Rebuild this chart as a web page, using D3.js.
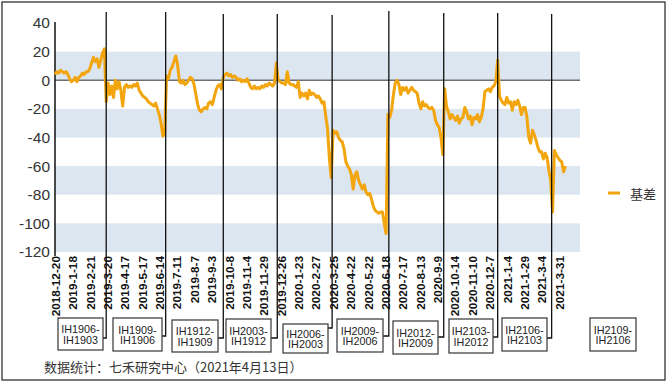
<!DOCTYPE html>
<html><head><meta charset="utf-8">
<script src="https://cdn.jsdelivr.net/npm/d3@7"></script>
<style>
html,body{margin:0;padding:0;background:#fff;}
svg{display:block;font-family:"Liberation Sans",Arial,"Noto Sans CJK SC",sans-serif;}
</style></head><body>
<svg id="c" width="670" height="384"></svg>
<script>
// ---- data ----
// x tick labels: one every 19 trading days, starting at trading day 0 (2018-12-20)
const tickLabels = ["2018-12-20","2019-1-18","2019-2-21","2019-3-20","2019-4-17","2019-5-17","2019-6-14",
 "2019-7-11","2019-8-7","2019-9-3","2019-10-8","2019-11-4","2019-11-29","2019-12-26","2020-1-23",
 "2020-2-27","2020-3-25","2020-4-22","2020-5-22","2020-6-18","2020-7-17","2020-8-13","2020-9-9",
 "2020-10-14","2020-11-10","2020-12-7","2021-1-4","2021-1-29","2021-3-4","2021-3-31"];
const tickEvery = 19;
// basis (基差) sampled every 2 trading days from 2018-12-20
const sampleEvery = 2;
const basis = [
 4,6,5,7,6,5,6,4,1,-1,0,2,-1,2,3,5,4,6,6,8,12,16,13,15,9,14,19,22,
 -15,-2,-10,-4,-12,0,-6,-1,-7,-18,-5,-3,-5,-4,-5,-3,-4,-2,-7,-9,-11,-12,-13,-15,-16,-17,-18,-16,-20,-24,-30,-39,-36,
 3,1,7,9,13,17,11,-1,-2,0,-3,-2,0,2,1,-3,-10,-17,-21,-22,-20,-19,-20,-16,-15,-17,-12,-7,-4,-3,-6,
 2,4,5,3,4,2,3,2,0,1,-1,0,-1,1,-2,-5,-6,-4,-6,-5,-6,-4,-5,-3,-4,-2,-3,-4,-2,12,
 0,-1,-2,-2,-3,6,-2,-3,-3,-4,-5,-1,-12,-9,-11,-9,-13,-7,-10,-9,-10,-12,-11,-13,-16,-15,-25,-34,-55,-68,
 -35,-37,-36,-40,-42,-43,-48,-57,-60,-62,-66,-76,-66,-64,-70,-73,-76,-73,-78,-80,-79,-83,-88,-91,-92,-93,-92,-92,-100,-107,
 -24,-26,-21,-10,-2,0,-3,-10,-5,-7,-5,-9,-7,-5,-7,-8,-9,-16,-20,-15,-18,-17,-19,-20,-19,-21,-28,-31,-33,-40,-52,
 -6,-18,-22,-27,-24,-26,-28,-25,-30,-27,-26,-19,-22,-27,-25,-31,-26,-27,-24,-29,-26,-20,-8,-7,-6,-8,-5,-4,-1,14,
 -11,-14,-16,-17,-12,-16,-15,-21,-15,-17,-14,-18,-24,-19,-19,-26,-40,-44,-35,-38,-42,-47,-50,-50,-55,-51,-54,-63,-70,-92,
 -49,-52,-54,-56,-57,-64,-60
];
const yTicks = [40,20,0,-20,-40,-60,-80,-100,-120];
// contract roll days (trading-day index) and spread labels
const rollDays = [56,121,184,243,303,365,425,484,543];
const spreads = [["IH1906-","IH1903"],["IH1909-","IH1906"],["IH1912-","IH1909"],["IH2003-","IH1912"],
 ["IH2006-","IH2003"],["IH2009-","IH2006"],["IH2012-","IH2009"],["IH2103-","IH2012"],
 ["IH2106-","IH2103"],["IH2109-","IH2106"]];
const seriesName = "基差";
const source = "数据统计：七禾研究中心（2021年4月13日）";

// ---- drawing ----
const svg = d3.select("#c");
const orange = "#F2A50C";
const x = d3.scaleLinear().domain([0, 574]).range([55, 580]);
const y = d3.scaleLinear().domain([-120, 40]).range([252, 23]);

// outer frame
svg.append("rect").attr("x",2).attr("y",2).attr("width",663).attr("height",378)
  .attr("fill","#fff").attr("stroke","#333").attr("stroke-width",1.3);

// alternating bands
const bandPairs = d3.pairs(yTicks).filter((p,i)=>i%2===1);
svg.append("g").selectAll("rect").data(bandPairs).join("rect")
  .attr("x", x(0)).attr("width", x(574)-x(0))
  .attr("y", d=>y(d[0])).attr("height", d=>y(d[1])-y(d[0]))
  .attr("fill","#DCE6F1");

// zero line
svg.append("line").attr("x1",x(0)).attr("x2",x(574)).attr("y1",y(0)).attr("y2",y(0))
  .attr("stroke","#6f6f6f").attr("stroke-width",1.6);

// y axis
const ya = svg.append("g").attr("transform",`translate(${x(0)},0)`)
  .call(d3.axisLeft(y).tickValues(yTicks).tickSize(0).tickPadding(5).tickFormat(d=>d));
ya.select(".domain").remove();
ya.selectAll("text").attr("font-size",15.5).attr("fill","#333").attr("font-family","'Liberation Sans',Arial,sans-serif");
svg.append("line").attr("x1",x(0)).attr("x2",x(0)).attr("y1",22).attr("y2",256)
  .attr("stroke","#111").attr("stroke-width",1.5);

// x axis labels
const xa = svg.append("g").attr("transform",`translate(0,${y(-120)})`)
  .call(d3.axisBottom(x).tickValues(tickLabels.map((d,i)=>i*tickEvery)).tickSize(0)
    .tickFormat((d,i)=>tickLabels[i]));
xa.select(".domain").remove();
xa.selectAll("text").attr("transform","rotate(-90)").attr("text-anchor","end")
  .attr("x",-4).attr("y",0).attr("dy","0.36em")
  .attr("font-size",11.8).attr("font-weight","bold").attr("fill","#111")
  .attr("font-family","'Liberation Sans',Arial,sans-serif");

// series line
const line = d3.line().x((d,i)=>x(i*sampleEvery)).y(d=>y(d)).curve(d3.curveLinear);
svg.append("path").datum(basis).attr("d",line).attr("fill","none")
  .attr("stroke",orange).attr("stroke-width",3).attr("stroke-linejoin","round");

// boxes and roll connectors
const lineTops = [12,12,14,14,15,11,13,13,14];
const boxL = [58,113,172,226,283,337,393,449,502,590];
const boxR = [103,162,218,271,328,383,438,493,547,636];
const boxT = [318,318,320,319,324,319,321,319,318,318];
const boxB = [350,351,352,352,353,352,354,353,351,351];
const connY = [338,336,338,338,328,336,337,337,338];
const g = svg.append("g");
rollDays.forEach((d,i)=>{
  const lx = x(d);
  g.append("path").attr("d",`M${lx},${lineTops[i]}V${connY[i]}H${boxR[i]}`)
    .attr("fill","none").attr("stroke","#111").attr("stroke-width",1.3);
});
spreads.forEach((s,i)=>{
  g.append("rect").attr("x",boxL[i]).attr("y",boxT[i]).attr("width",boxR[i]-boxL[i]).attr("height",boxB[i]-boxT[i])
    .attr("fill","#fff").attr("stroke","#444").attr("stroke-width",1.3);
  const cx = (boxL[i]+boxR[i])/2, cy=(boxT[i]+boxB[i])/2;
  g.append("text").attr("x",cx).attr("y",cy-5).attr("text-anchor","middle").attr("dominant-baseline","central")
    .attr("font-size",10.8).attr("fill","#222").text(s[0]);
  g.append("text").attr("x",cx).attr("y",cy+5.5).attr("text-anchor","middle").attr("dominant-baseline","central")
    .attr("font-size",10.8).attr("fill","#222").text(s[1]);
});

// legend
svg.append("line").attr("x1",608).attr("x2",620).attr("y1",193).attr("y2",193)
  .attr("stroke",orange).attr("stroke-width",3);
svg.append("text").attr("x",630).attr("y",193).attr("dominant-baseline","central")
  .attr("font-size",13).attr("fill","#333").attr("font-family","'Noto Sans CJK SC',sans-serif").text(seriesName);

// source note
svg.append("text").attr("x",44).attr("y",366).attr("dominant-baseline","central")
  .attr("font-size",13).attr("fill","#333").attr("font-family","'Noto Sans CJK SC','Liberation Sans',sans-serif").text(source);
</script>
</body></html>
